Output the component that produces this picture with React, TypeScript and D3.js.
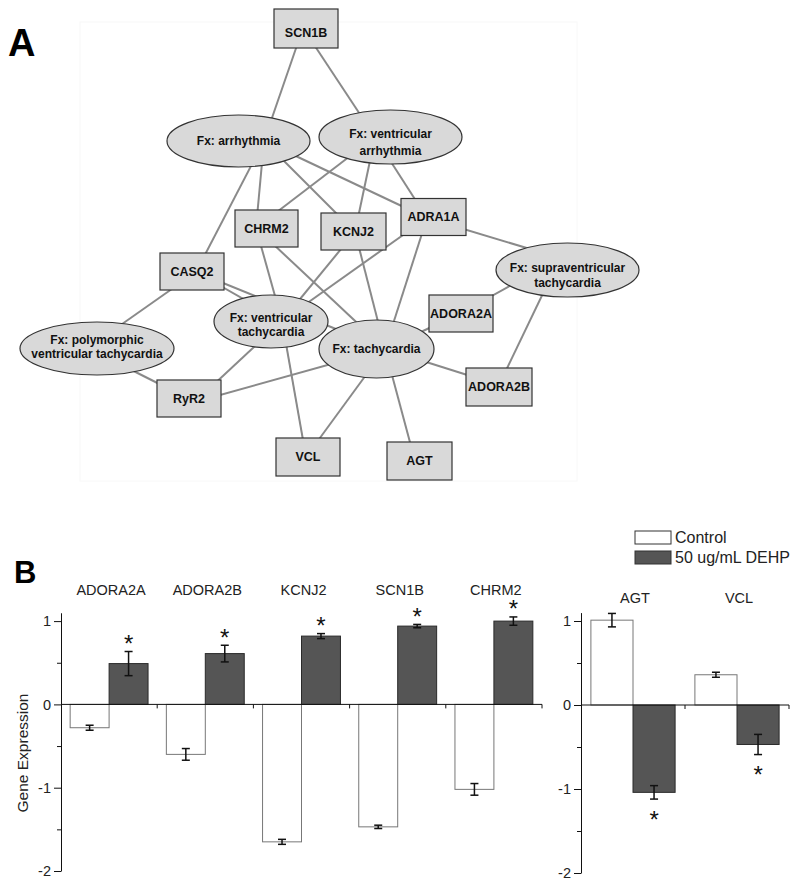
import React, { useEffect, useRef } from 'react';
import * as d3 from 'd3';

// ---- panel B data ----
const leftGenes = ['ADORA2A', 'ADORA2B', 'KCNJ2', 'SCN1B', 'CHRM2'];
const leftControl = [-0.28, -0.6, -1.65, -1.47, -1.02];
const leftControlErr = [0.03, 0.07, 0.03, 0.02, 0.07];
const leftDehp = [0.49, 0.61, 0.82, 0.94, 1.0];
const leftDehpErr = [0.145, 0.1, 0.03, 0.02, 0.05];

const rightGenes = ['AGT', 'VCL'];
const rightControl = [1.01, 0.36];
const rightControlErr = [0.08, 0.03];
const rightDehp = [-1.04, -0.47];
const rightDehpErr = [0.08, 0.12];

const seriesNames = ['Control', '50 ug/mL DEHP'];
const yTicks = [-2, -1, 0, 1];
const yMinorTicks = [-1.5, -0.5, 0.5];

// ---- panel A network ----
const geneNodes = ['SCN1B', 'CHRM2', 'KCNJ2', 'ADRA1A', 'CASQ2', 'ADORA2A', 'ADORA2B', 'RyR2', 'VCL', 'AGT'];
const functionNodes = [
  'Fx: arrhythmia',
  'Fx: ventricular arrhythmia',
  'Fx: ventricular tachycardia',
  'Fx: polymorphic ventricular tachycardia',
  'Fx: tachycardia',
  'Fx: supraventricular tachycardia',
];
const links = [
  ['SCN1B', 'Fx: arrhythmia'],
  ['SCN1B', 'Fx: ventricular arrhythmia'],
  ['Fx: arrhythmia', 'CHRM2'],
  ['Fx: arrhythmia', 'KCNJ2'],
  ['Fx: arrhythmia', 'CASQ2'],
  ['Fx: arrhythmia', 'ADRA1A'],
  ['Fx: ventricular arrhythmia', 'CHRM2'],
  ['Fx: ventricular arrhythmia', 'KCNJ2'],
  ['Fx: ventricular arrhythmia', 'ADRA1A'],
  ['CHRM2', 'Fx: ventricular tachycardia'],
  ['CHRM2', 'Fx: tachycardia'],
  ['KCNJ2', 'Fx: ventricular tachycardia'],
  ['KCNJ2', 'Fx: tachycardia'],
  ['ADRA1A', 'Fx: ventricular tachycardia'],
  ['ADRA1A', 'Fx: tachycardia'],
  ['ADRA1A', 'Fx: supraventricular tachycardia'],
  ['CASQ2', 'Fx: ventricular tachycardia'],
  ['CASQ2', 'Fx: tachycardia'],
  ['CASQ2', 'Fx: polymorphic ventricular tachycardia'],
  ['Fx: polymorphic ventricular tachycardia', 'RyR2'],
  ['RyR2', 'Fx: ventricular tachycardia'],
  ['RyR2', 'Fx: tachycardia'],
  ['Fx: ventricular tachycardia', 'VCL'],
  ['Fx: tachycardia', 'VCL'],
  ['Fx: tachycardia', 'AGT'],
  ['Fx: tachycardia', 'ADORA2A'],
  ['Fx: tachycardia', 'ADORA2B'],
  ['Fx: supraventricular tachycardia', 'ADORA2A'],
  ['Fx: supraventricular tachycardia', 'ADORA2B'],
];

// node placement (centre, size, edge anchor, label lines)
const layout = {
  SCN1B: { cx: 306, cy: 28.5, w: 64, h: 39, ax: 303, ay: 28, dy: 4 },
  CHRM2: { cx: 266.5, cy: 228.5, w: 63, h: 37, ax: 256, ay: 228 },
  KCNJ2: { cx: 353.5, cy: 231.5, w: 65, h: 37, ax: 355, ay: 232 },
  ADRA1A: { cx: 433.5, cy: 217, w: 65, h: 37, ax: 427, ay: 218 },
  CASQ2: { cx: 192, cy: 271.5, w: 64, h: 37, ax: 196, ay: 272 },
  ADORA2A: { cx: 461, cy: 313.5, w: 64, h: 37, ax: 461, ay: 313 },
  ADORA2B: { cx: 499, cy: 387, w: 66, h: 38, ax: 499, ay: 385 },
  RyR2: { cx: 189, cy: 398.5, w: 64, h: 37, ax: 195, ay: 402 },
  VCL: { cx: 308, cy: 457, w: 64, h: 38, ax: 306, ay: 457 },
  AGT: { cx: 419.5, cy: 461, w: 65, h: 38, ax: 415, ay: 461 },
  'Fx: arrhythmia': { cx: 238.5, cy: 141, w: 143, h: 52, ax: 264, ay: 141, lines: ['Fx: arrhythmia'] },
  'Fx: ventricular arrhythmia': { cx: 390.5, cy: 137, w: 143, h: 54, ax: 375, ay: 137, dy: 5, lh: 17, lines: ['Fx: ventricular', 'arrhythmia'] },
  'Fx: ventricular tachycardia': { cx: 271, cy: 321.5, w: 114, h: 53, ax: 282, ay: 321, dy: 3, lh: 14, lines: ['Fx: ventricular', 'tachycardia'] },
  'Fx: polymorphic ventricular tachycardia': { cx: 97, cy: 348.5, w: 154, h: 53, ax: 88, ay: 348, dy: -2, lh: 14, lines: ['Fx: polymorphic', 'ventricular tachycardia'] },
  'Fx: tachycardia': { cx: 376.5, cy: 349, w: 115, h: 58, ax: 385, ay: 349, lines: ['Fx: tachycardia'] },
  'Fx: supraventricular tachycardia': { cx: 567.5, cy: 270, w: 143, h: 54, ax: 560, ay: 258, dy: 5, lh: 15, lines: ['Fx: supraventricular', 'tachycardia'] },
};

const FONT = 'Arial, "Liberation Sans", sans-serif';

function drawNetwork(g) {
  g.append('rect')
    .attr('x', 80).attr('y', 22).attr('width', 497).attr('height', 459)
    .attr('fill', 'none').attr('stroke', '#f8f8f8');

  g.append('g')
    .selectAll('line')
    .data(links)
    .join('line')
    .attr('x1', (d) => layout[d[0]].ax)
    .attr('y1', (d) => layout[d[0]].ay)
    .attr('x2', (d) => layout[d[1]].ax)
    .attr('y2', (d) => layout[d[1]].ay)
    .attr('stroke', '#8a8a8a')
    .attr('stroke-width', 2);

  const genes = g.append('g').selectAll('g').data(geneNodes).join('g');
  genes.append('rect')
    .attr('x', (d) => layout[d].cx - layout[d].w / 2)
    .attr('y', (d) => layout[d].cy - layout[d].h / 2)
    .attr('width', (d) => layout[d].w)
    .attr('height', (d) => layout[d].h)
    .attr('fill', '#d9d9d9').attr('stroke', '#333').attr('stroke-width', 1.2);
  genes.append('text')
    .attr('x', (d) => layout[d].cx)
    .attr('y', (d) => layout[d].cy + (layout[d].dy || 0))
    .attr('text-anchor', 'middle').attr('dominant-baseline', 'central')
    .attr('font-family', FONT).attr('font-weight', 'bold').attr('font-size', 12.5)
    .attr('fill', '#111')
    .text((d) => d);

  const fx = g.append('g').selectAll('g').data(functionNodes).join('g');
  fx.append('ellipse')
    .attr('cx', (d) => layout[d].cx)
    .attr('cy', (d) => layout[d].cy)
    .attr('rx', (d) => layout[d].w / 2)
    .attr('ry', (d) => layout[d].h / 2)
    .attr('fill', '#d9d9d9').attr('stroke', '#333').attr('stroke-width', 1.2);
  fx.each(function (d) {
    const L = layout[d];
    const lh = L.lh || 14;
    const n = L.lines.length;
    d3.select(this).append('text')
      .attr('text-anchor', 'middle')
      .attr('font-family', FONT).attr('font-weight', 'bold').attr('font-size', 12)
      .attr('fill', '#111')
      .selectAll('tspan')
      .data(L.lines)
      .join('tspan')
      .attr('x', L.cx)
      .attr('y', (t, i) => L.cy + (L.dy || 0) + (i - (n - 1) / 2) * lh)
      .attr('dominant-baseline', 'central')
      .text((t) => t);
  });
}

function drawBars(g, genes, control, controlErr, dehp, dehpErr, box) {
  const y = d3.scaleLinear().domain([-2, 1.1]).range([box.bottom, box.bottom - 3.1 * box.unit]);
  const x = d3.scaleBand().domain(genes).range([box.left, box.right]);
  const xs = d3.scaleBand().domain(seriesNames).range([0, x.bandwidth()]).paddingOuter(0.235);

  const rows = genes.flatMap((gene, i) => [
    { gene, s: seriesNames[0], v: control[i], e: controlErr[i] },
    { gene, s: seriesNames[1], v: dehp[i], e: dehpErr[i] },
  ]);

  g.append('g')
    .selectAll('rect')
    .data(rows)
    .join('rect')
    .attr('x', (d) => x(d.gene) + xs(d.s))
    .attr('y', (d) => Math.min(y(d.v), y(0)))
    .attr('width', xs.bandwidth())
    .attr('height', (d) => Math.abs(y(d.v) - y(0)))
    .attr('fill', (d) => (d.s === seriesNames[0] ? '#fff' : '#555'))
    .attr('stroke', (d) => (d.s === seriesNames[0] ? '#777' : '#2a2a2a'))
    .attr('stroke-width', 1);

  // error bars
  const eb = g.append('g').attr('stroke', '#111').attr('stroke-width', 1.5);
  rows.forEach((d) => {
    const cx = x(d.gene) + xs(d.s) + xs.bandwidth() / 2;
    const top = y(d.v + d.e);
    const bot = y(d.v - d.e);
    eb.append('line').attr('x1', cx).attr('x2', cx).attr('y1', top).attr('y2', bot);
    eb.append('line').attr('x1', cx - 4).attr('x2', cx + 4).attr('y1', top).attr('y2', top);
    eb.append('line').attr('x1', cx - 4).attr('x2', cx + 4).attr('y1', bot).attr('y2', bot);
  });

  // significance stars on treated bars
  g.append('g')
    .selectAll('text')
    .data(rows.filter((d) => d.s === seriesNames[1]))
    .join('text')
    .attr('x', (d) => x(d.gene) + xs(d.s) + xs.bandwidth() / 2)
    .attr('y', (d) => (d.v >= 0 ? y(d.v + d.e) - 13 : y(d.v - d.e) + 15) + 13.5)
    .attr('text-anchor', 'middle')
    .attr('font-family', FONT).attr('font-size', 24).attr('fill', '#111')
    .text('*');

  // zero line with category ticks
  const axisG = g.append('g').attr('stroke', '#111').attr('stroke-width', 1);
  axisG.append('line').attr('x1', box.left).attr('x2', box.right).attr('y1', y(0)).attr('y2', y(0));
  genes.forEach((gene) => {
    const tx = x(gene) + x.bandwidth();
    axisG.append('line').attr('x1', tx).attr('x2', tx).attr('y1', y(0)).attr('y2', y(0) + 4);
  });

  // y axis
  const ya = g.append('g')
    .attr('transform', `translate(${box.left},0)`)
    .call(d3.axisLeft(y).tickValues(yTicks).tickSize(7).tickSizeOuter(0).tickPadding(3).tickFormat((d) => String(d)));
  ya.attr('font-family', FONT).attr('font-size', 14.5);
  ya.selectAll('text').attr('fill', '#222');
  ya.selectAll('line,path').attr('stroke', '#111');
  const ym = g.append('g')
    .attr('transform', `translate(${box.left},0)`)
    .call(d3.axisLeft(y).tickValues(yMinorTicks).tickSize(4).tickFormat(() => ''));
  ym.select('.domain').remove();
  ym.selectAll('line').attr('stroke', '#111');

  // category labels
  g.append('g')
    .selectAll('text')
    .data(genes)
    .join('text')
    .attr('x', (d) => x(d) + x.bandwidth() / 2 + 2)
    .attr('y', box.labelY)
    .attr('text-anchor', 'middle')
    .attr('font-family', FONT).attr('font-size', 14.5).attr('fill', '#222')
    .text((d) => d);
}

const App = () => {
  const svgRef = useRef(null);

  useEffect(() => {
    const svg = d3.select(svgRef.current);
    svg.selectAll('*').remove();

    svg.append('text').attr('x', 8).attr('y', 56)
      .attr('font-family', FONT).attr('font-weight', 'bold').attr('font-size', 38).attr('fill', '#000')
      .text('A');
    svg.append('text').attr('x', 14).attr('y', 583)
      .attr('font-family', FONT).attr('font-weight', 'bold').attr('font-size', 31).attr('fill', '#000')
      .text('B');

    drawNetwork(svg.append('g'));

    drawBars(svg.append('g'), leftGenes, leftControl, leftControlErr, leftDehp, leftDehpErr,
      { left: 61, right: 542, bottom: 871, unit: 83.3, labelY: 595 });
    drawBars(svg.append('g'), rightGenes, rightControl, rightControlErr, rightDehp, rightDehpErr,
      { left: 581, right: 789, bottom: 873, unit: 84, labelY: 603 });

    svg.append('text')
      .attr('transform', 'translate(22,753) rotate(-90)')
      .attr('text-anchor', 'middle').attr('dominant-baseline', 'central')
      .attr('font-family', FONT).attr('font-size', 15.5).attr('fill', '#222')
      .text('Gene Expression');

    // legend
    const lg = svg.append('g').selectAll('g').data(seriesNames).join('g')
      .attr('transform', (d, i) => `translate(635,${531 + i * 20})`);
    lg.append('rect').attr('width', 36).attr('height', 13)
      .attr('fill', (d, i) => (i === 0 ? '#fff' : '#555'))
      .attr('stroke', '#333').attr('stroke-width', 1);
    lg.append('text').attr('x', 40).attr('y', 6.5).attr('dominant-baseline', 'central')
      .attr('font-family', FONT).attr('font-size', 16).attr('fill', '#222')
      .text((d) => d);
  }, []);

  return (
    <svg
      ref={svgRef}
      width={800}
      height={887}
      style={{ position: 'absolute', left: 0, top: 0, background: '#fff' }}
    ></svg>
  );
};

export default App;
